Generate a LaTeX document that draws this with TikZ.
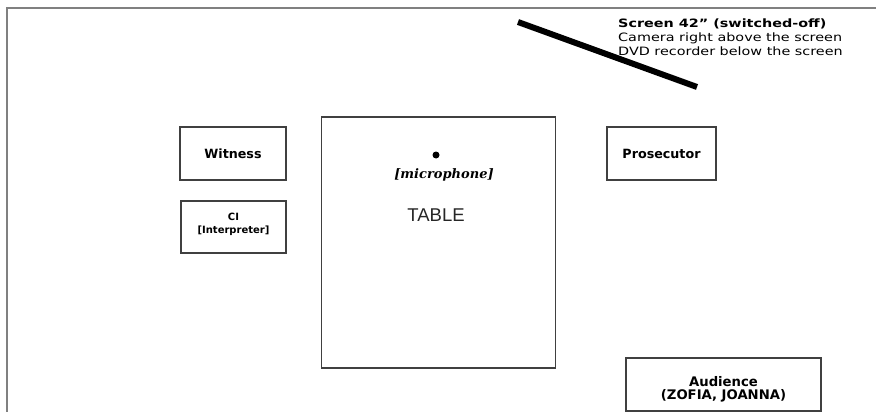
\documentclass[tikz,border=0pt]{standalone}
\usepackage{fontspec}
\usepackage{graphicx}
\setmainfont{DejaVu Sans}
\newfontfamily\tablefont{Liberation Sans}
\newfontfamily\micfont{DejaVu Serif}
\begin{document}
\begin{tikzpicture}[x=1pt,y=-1pt,
  box/.style={draw=black!75, line width=1.1pt, fill=white, inner sep=0pt, align=center,
    font=\bfseries\fontsize{12.7}{14}\selectfont},
  txt/.style={inner sep=0pt, align=center},
  citxt/.style={txt, font=\bfseries\fontsize{10}{13}\selectfont},
  audtxt/.style={txt, font=\bfseries\fontsize{13.2}{12.5}\selectfont}]
\useasboundingbox (0,0) rectangle (876,412);
\fill[white] (0,0) rectangle (876,412);
% room border
\draw[gray, line width=2pt] (6.5,412) -- (6.5,8.5) -- (876,8.5);
% screen
\coordinate (s1) at (518,22);
\coordinate (s2) at (697,87);
\draw[black, line width=6pt] (s1) -- (s2);
\node[anchor=north west, align=left, inner sep=0pt,
  font=\fontsize{11.5}{14}\selectfont] (screentxt) at (618,19)
  {\scalebox{1.25}[1]{\textbf{Screen 42" (switched-off)}}\\
   \scalebox{1.25}[1]{Camera right above the screen}\\
   \scalebox{1.25}[1]{DVD recorder below the screen}};
% furniture
\node[box, minimum width=234pt, minimum height=251pt] (table) at (438.5,242.5) {};
\node[box, minimum width=106pt, minimum height=53pt] (witness) at (233,153.5) {Witness};
\node[box, minimum width=105pt, minimum height=52pt] (ci) at (233.5,227) {};
\node[citxt] (citext) at (233.5,224) {CI\\{}[Interpreter]};
\node[box, minimum width=109pt, minimum height=53pt] (prosecutor) at (661.5,153.5) {Prosecutor};
\node[box, minimum width=195pt, minimum height=53pt] (audience) at (723.5,384.5) {};
\node[audtxt] (audtext) at (723.5,389.5) {Audience\\(ZOFIA, JOANNA)};
% microphone and table label
\fill[black] (436,155) circle (3.5pt) coordinate (mic);
\node[inner sep=0pt, font=\micfont\bfseries\itshape\fontsize{13}{15}\selectfont] (miclabel) at (444,174.5) {[microphone]};
\node[inner sep=0pt, font=\tablefont\fontsize{18.5}{20}\selectfont, text=black!85] (tablelabel) at (436,215) {TABLE};
\end{tikzpicture}
\end{document}
